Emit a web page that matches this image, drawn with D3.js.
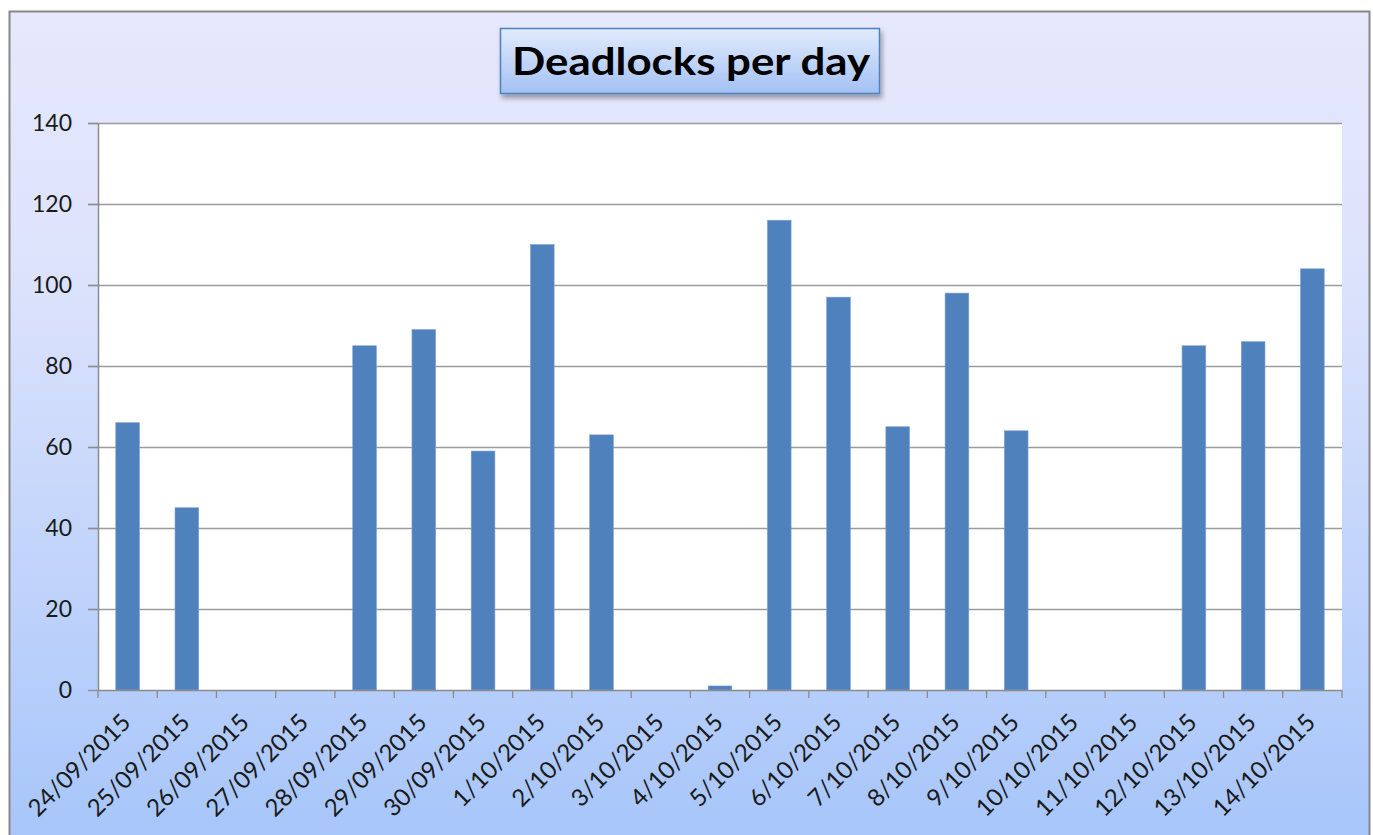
<!DOCTYPE html>
<html>
<head>
<meta charset="utf-8">
<script src="https://cdn.jsdelivr.net/npm/d3@7"></script>
<style>
  html, body { margin: 0; padding: 0; background: #ffffff; }
  svg { display: block; }
</style>
</head>
<body>
<svg id="chart" width="1373" height="835"></svg>
<script>
const categories = ["24/09/2015","25/09/2015","26/09/2015","27/09/2015","28/09/2015","29/09/2015","30/09/2015","1/10/2015","2/10/2015","3/10/2015","4/10/2015","5/10/2015","6/10/2015","7/10/2015","8/10/2015","9/10/2015","10/10/2015","11/10/2015","12/10/2015","13/10/2015","14/10/2015"];
const deadlocks = [66,45,0,0,85,89,59,110,63,0,1,116,97,65,98,64,0,0,85,86,104];
const yTicks = [0,20,40,60,80,100,120,140];
const titleText = "Deadlocks per day";

const svg = d3.select("#chart");
const defs = svg.append("defs");

const bgGrad = defs.append("linearGradient").attr("id","bgGrad").attr("x1",0).attr("y1",0).attr("x2",0).attr("y2",1);
bgGrad.append("stop").attr("offset","0%").attr("stop-color","#e6e8fc");
bgGrad.append("stop").attr("offset","30%").attr("stop-color","#dde3fc");
bgGrad.append("stop").attr("offset","100%").attr("stop-color","#a4c4fa");

const titleGrad = defs.append("linearGradient").attr("id","titleGrad").attr("x1",0).attr("y1",0).attr("x2",0).attr("y2",1);
titleGrad.append("stop").attr("offset","0%").attr("stop-color","#e2ebfc");
titleGrad.append("stop").attr("offset","100%").attr("stop-color","#a3c1f3");

const shadow = defs.append("filter").attr("id","shadow").attr("x","-10%").attr("y","-20%").attr("width","130%").attr("height","160%");
shadow.append("feDropShadow").attr("dx",2).attr("dy",4).attr("stdDeviation",2.5).attr("flood-color","#000").attr("flood-opacity",0.35);

// outer chart area
svg.append("rect")
  .attr("x",9.5).attr("y",11.5).attr("width",1360).attr("height",860)
  .attr("fill","url(#bgGrad)").attr("stroke","#878787").attr("stroke-width",2);

const margin = {left: 98, top: 123, right: 1342, bottom: 690};

const x = d3.scaleBand().domain(categories).range([margin.left, margin.right]).paddingInner(0.6).paddingOuter(0.3);
const xTickScale = d3.scaleBand().domain(categories).range([margin.left, margin.right]).padding(0);
const y = d3.scaleLinear().domain([0,140]).range([margin.bottom, margin.top]);

// plot area
svg.append("rect")
  .attr("x",margin.left).attr("y",margin.top)
  .attr("width",margin.right-margin.left).attr("height",margin.bottom-margin.top)
  .attr("fill","#ffffff");

// gridlines
svg.append("g").selectAll("line").data(yTicks.filter(d=>d>0)).join("line")
  .attr("x1",margin.left-10).attr("x2",margin.right)
  .attr("y1",d=>Math.round(y(d))+0.5).attr("y2",d=>Math.round(y(d))+0.5)
  .attr("stroke","#9b9b9b").attr("stroke-width",1.3);

// bars
svg.append("g").selectAll("rect").data(deadlocks).join("rect")
  .attr("x",(d,i)=>x(categories[i]))
  .attr("width",x.bandwidth())
  .attr("y",d=>y(d))
  .attr("height",d=>margin.bottom-y(d))
  .attr("fill","#4f81bd")
  .attr("stroke","#7da2d4").attr("stroke-width",0.6);

// y axis
const yAxis = d3.axisLeft(y).tickValues(yTicks).tickSize(10).tickPadding(16).tickSizeOuter(0);
const yg = svg.append("g").attr("transform",`translate(${margin.left},0)`).call(yAxis);
yg.select(".domain").attr("stroke","#8c8c8c").attr("stroke-width",1.5);
yg.selectAll(".tick line").attr("stroke","#8c8c8c").attr("stroke-width",1.3);
yg.selectAll(".tick text").attr("font-family","Lato, 'Open Sans', sans-serif").attr("font-size",23).attr("fill","#1a1a1a");

// x axis line + ticks at band edges
const xg = svg.append("g");
xg.append("line").attr("x1",margin.left).attr("x2",margin.right)
  .attr("y1",margin.bottom+0.5).attr("y2",margin.bottom+0.5)
  .attr("stroke","#8c8c8c").attr("stroke-width",1.5);
const edges = categories.map(c=>xTickScale(c)).concat([margin.right]);
xg.selectAll("line.tk").data(edges).join("line").attr("class","tk")
  .attr("x1",d=>d).attr("x2",d=>d).attr("y1",margin.bottom).attr("y2",margin.bottom+8)
  .attr("stroke","#8c8c8c").attr("stroke-width",1.3);

// x labels
xg.selectAll("text").data(categories).join("text")
  .attr("transform",d=>`translate(${x(d)+x.bandwidth()/2+4.5},${margin.bottom+34}) rotate(-45)`)
  .attr("text-anchor","end")
  .attr("font-family","Lato, 'Open Sans', sans-serif").attr("font-size",24).attr("fill","#1a1a1a")
  .text(d=>d);

// title
const tg = svg.append("g");
tg.append("rect").attr("x",500.5).attr("y",28.5).attr("width",379).attr("height",65)
  .attr("fill","url(#titleGrad)").attr("stroke","#4f81bd").attr("stroke-width",1.5)
  .attr("filter","url(#shadow)");
tg.append("text").attr("x",691).attr("y",75)
  .attr("text-anchor","middle")
  .attr("font-family","Lato, 'Open Sans', sans-serif").attr("font-weight","bold").attr("font-size",38)
  .attr("textLength",358).attr("lengthAdjust","spacingAndGlyphs")
  .attr("fill","#000").text(titleText);
</script>
</body>
</html>
